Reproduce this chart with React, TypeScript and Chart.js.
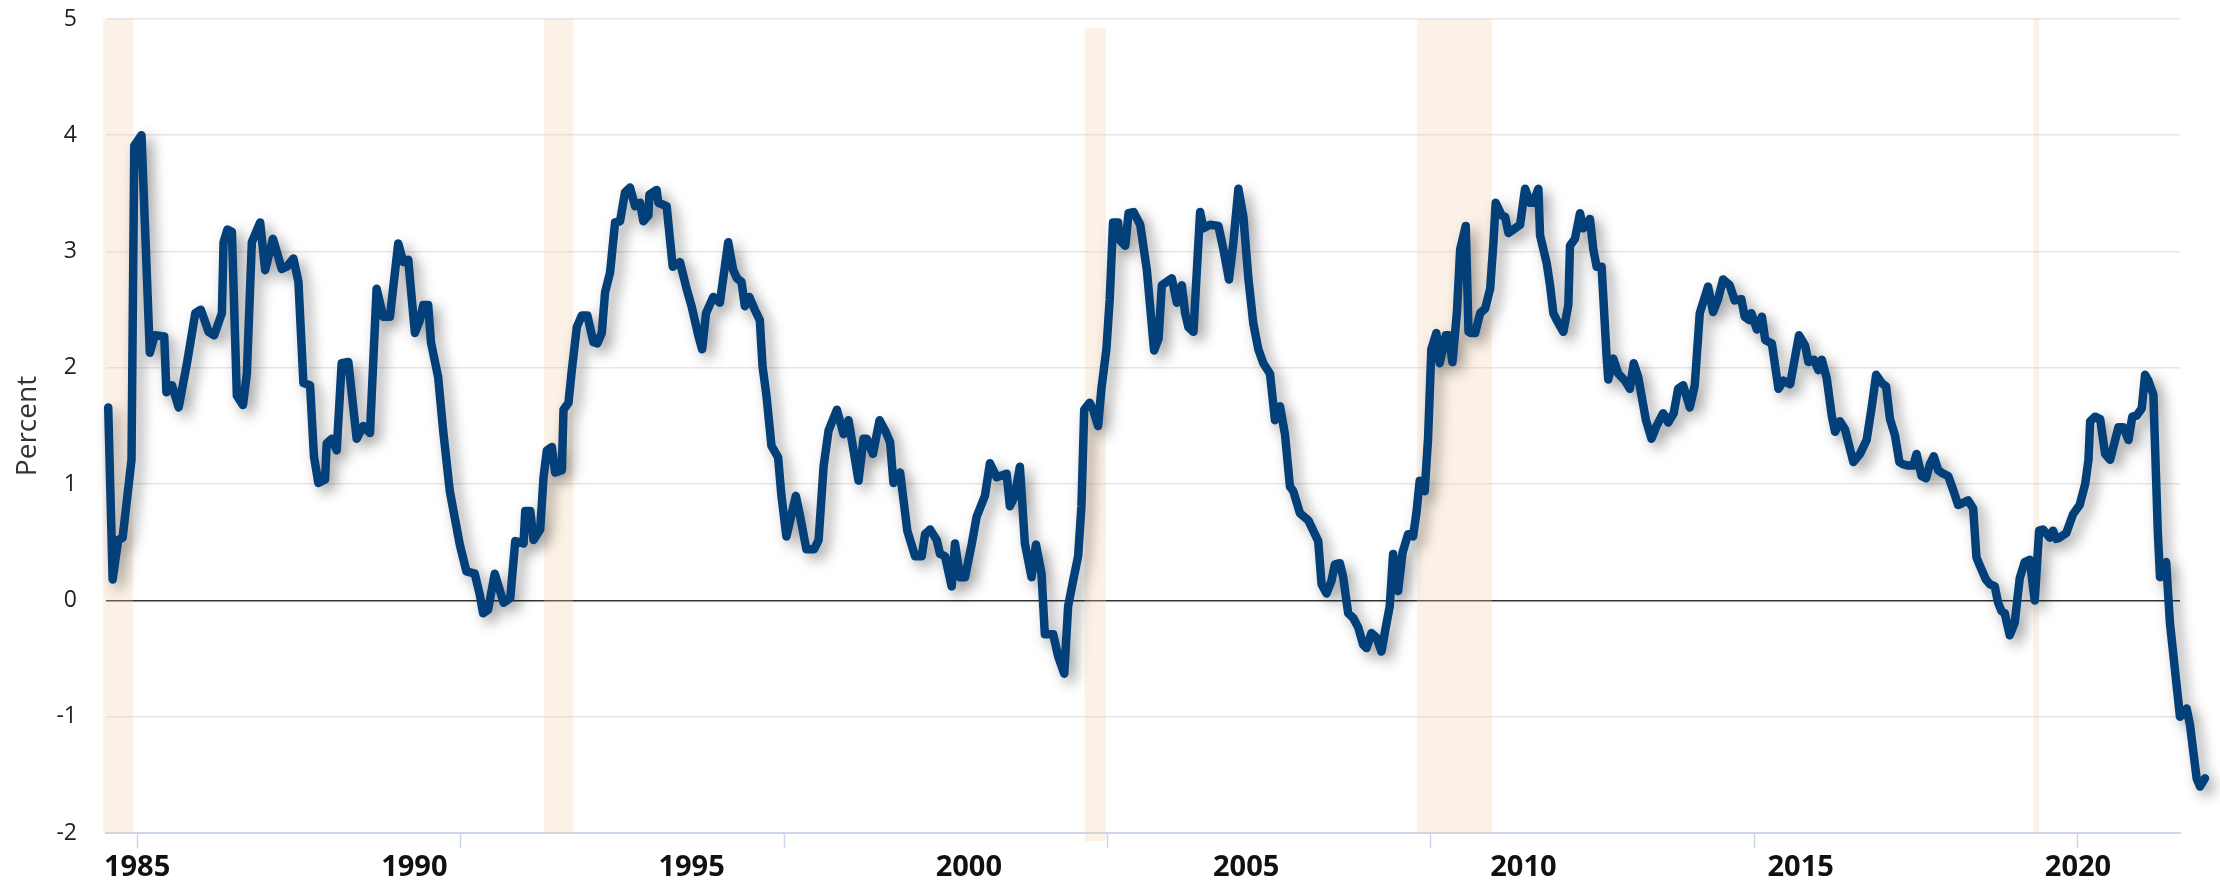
import React, { useEffect, useRef } from 'react';
import { Chart, registerables } from 'chart.js';

Chart.register(...registerables);

// Vertices of the series (decimal year, percent)
const lineDates = [
  1984.48, 1984.56, 1984.66, 1984.74, 1984.9, 1984.95, 1985.08, 1985.23, 1985.32, 1985.49,
  1985.53, 1985.63, 1985.75, 1985.9, 1986.05, 1986.15, 1986.29, 1986.39, 1986.53, 1986.56,
  1986.63, 1986.71, 1986.8, 1986.91, 1986.98, 1987.07, 1987.22, 1987.31, 1987.45, 1987.61,
  1987.7, 1987.82, 1987.91, 1988.0, 1988.12, 1988.19, 1988.27, 1988.39, 1988.42, 1988.51,
  1988.6, 1988.69, 1988.81, 1988.96, 1989.08, 1989.2, 1989.32, 1989.44, 1989.56, 1989.71,
  1989.8, 1989.89, 1990.01, 1990.1, 1990.16, 1990.25, 1990.3, 1990.43, 1990.52, 1990.64,
  1990.82, 1990.94, 1991.09, 1991.18, 1991.24, 1991.33, 1991.45, 1991.61, 1991.73, 1991.82,
  1991.97, 1992.0, 1992.09, 1992.15, 1992.27, 1992.33, 1992.39, 1992.48, 1992.54, 1992.66,
  1992.69, 1992.78, 1992.84, 1992.93, 1993.02, 1993.12, 1993.23, 1993.3, 1993.38, 1993.44,
  1993.53, 1993.62, 1993.71, 1993.8, 1993.89, 1993.98, 1994.07, 1994.13, 1994.22, 1994.24,
  1994.37, 1994.4, 1994.55, 1994.66, 1994.79, 1994.91, 1995.0, 1995.12, 1995.19, 1995.26,
  1995.39, 1995.51, 1995.66, 1995.75, 1995.82, 1995.9, 1995.96, 1996.04, 1996.14, 1996.23,
  1996.28, 1996.35, 1996.44, 1996.56, 1996.62, 1996.71, 1996.88, 1996.95, 1997.07, 1997.21,
  1997.29, 1997.38, 1997.47, 1997.62, 1997.74, 1997.83, 1998.01, 1998.1, 1998.16, 1998.27,
  1998.39, 1998.49, 1998.58, 1998.64, 1998.76, 1998.89, 1999.03, 1999.15, 1999.21, 1999.3,
  1999.42, 1999.48, 1999.57, 1999.69, 1999.75, 1999.84, 1999.93, 2000.05, 2000.14, 2000.29,
  2000.38, 2000.5, 2000.68, 2000.74, 2000.83, 2000.92, 2001.01, 2001.13, 2001.21, 2001.31,
  2001.37, 2001.52, 2001.61, 2001.72, 2001.79, 2001.88, 2001.97, 2002.03, 2002.08, 2002.18,
  2002.24, 2002.33, 2002.39, 2002.48, 2002.54, 2002.6, 2002.69, 2002.72, 2002.82, 2002.88,
  2002.97, 2003.09, 2003.21, 2003.34, 2003.42, 2003.48, 2003.57, 2003.66, 2003.75, 2003.84,
  2003.9, 2003.96, 2004.05, 2004.17, 2004.23, 2004.35, 2004.5, 2004.59, 2004.69, 2004.77,
  2004.86, 2004.95, 2005.04, 2005.13, 2005.22, 2005.31, 2005.43, 2005.52, 2005.61, 2005.7,
  2005.79, 2005.85, 2005.97, 2006.12, 2006.21, 2006.3, 2006.36, 2006.45, 2006.54, 2006.6,
  2006.69, 2006.75, 2006.84, 2006.93, 2007.02, 2007.11, 2007.17, 2007.26, 2007.35, 2007.44,
  2007.53, 2007.59, 2007.65, 2007.74, 2007.82, 2007.92, 2008.01, 2008.07, 2008.13, 2008.22,
  2008.28, 2008.34, 2008.43, 2008.49, 2008.6, 2008.65, 2008.72, 2008.8, 2008.86, 2008.96,
  2009.01, 2009.05, 2009.13, 2009.22, 2009.31, 2009.4, 2009.46, 2009.5, 2009.61, 2009.67,
  2009.73, 2009.82, 2009.94, 2010.03, 2010.12, 2010.18, 2010.27, 2010.3, 2010.42, 2010.48,
  2010.54, 2010.6, 2010.72, 2010.81, 2010.84, 2010.93, 2011.02, 2011.08, 2011.2, 2011.26,
  2011.32, 2011.41, 2011.5, 2011.53, 2011.62, 2011.71, 2011.83, 2011.92, 2011.99, 2012.07,
  2012.13, 2012.21, 2012.31, 2012.4, 2012.52, 2012.61, 2012.71, 2012.79, 2012.88, 2013.0,
  2013.09, 2013.18, 2013.33, 2013.42, 2013.51, 2013.6, 2013.72, 2013.81, 2013.93, 2013.99,
  2014.08, 2014.11, 2014.21, 2014.3, 2014.36, 2014.48, 2014.6, 2014.69, 2014.81, 2014.97,
  2015.08, 2015.14, 2015.24, 2015.32, 2015.38, 2015.47, 2015.56, 2015.62, 2015.71, 2015.8,
  2015.95, 2016.07, 2016.19, 2016.28, 2016.36, 2016.46, 2016.54, 2016.61, 2016.7, 2016.78,
  2016.85, 2016.94, 2017.03, 2017.09, 2017.18, 2017.26, 2017.33, 2017.4, 2017.48, 2017.57,
  2017.66, 2017.75, 2017.84, 2017.93, 2018.02, 2018.11, 2018.17, 2018.23, 2018.34, 2018.41,
  2018.5, 2018.56, 2018.62, 2018.68, 2018.77, 2018.86, 2018.95, 2019.04, 2019.13, 2019.22,
  2019.3, 2019.37, 2019.49, 2019.55, 2019.61, 2019.67, 2019.79, 2019.91, 2020.03, 2020.13,
  2020.19, 2020.22, 2020.31, 2020.4, 2020.49, 2020.58, 2020.73, 2020.82, 2020.91, 2020.98,
  2021.06, 2021.15, 2021.21, 2021.27, 2021.36, 2021.44, 2021.48, 2021.59, 2021.66, 2021.84,
  2021.96, 2022.02, 2022.14, 2022.2, 2022.29,
];

const lineValues = [
  1.66, 0.18, 0.52, 0.54, 1.21, 3.91, 4.0, 2.13, 2.28, 2.27,
  1.79, 1.85, 1.66, 2.04, 2.47, 2.5, 2.31, 2.28, 2.47, 3.08,
  3.19, 3.17, 1.76, 1.68, 1.95, 3.08, 3.25, 2.84, 3.11, 2.85,
  2.87, 2.94, 2.74, 1.87, 1.85, 1.24, 1.01, 1.04, 1.35, 1.39,
  1.29, 2.04, 2.05, 1.39, 1.5, 1.44, 2.68, 2.44, 2.44, 3.07,
  2.91, 2.93, 2.3, 2.41, 2.54, 2.54, 2.22, 1.92, 1.46, 0.94,
  0.48, 0.25, 0.23, 0.05, -0.11, -0.08, 0.23, -0.02, 0.02, 0.51,
  0.49, 0.77, 0.77, 0.52, 0.61, 1.06, 1.29, 1.32, 1.1, 1.12,
  1.64, 1.7, 1.98, 2.35, 2.45, 2.45, 2.22, 2.21, 2.3, 2.65,
  2.82, 3.25, 3.26, 3.51, 3.55, 3.39, 3.42, 3.26, 3.31, 3.49,
  3.53, 3.42, 3.39, 2.87, 2.91, 2.68, 2.53, 2.28, 2.16, 2.47,
  2.61, 2.56, 3.08, 2.84, 2.77, 2.74, 2.53, 2.61, 2.5, 2.41,
  2.01, 1.76, 1.33, 1.23, 0.9, 0.55, 0.9, 0.74, 0.44, 0.44,
  0.52, 1.15, 1.46, 1.64, 1.43, 1.55, 1.03, 1.39, 1.39, 1.26,
  1.55, 1.46, 1.36, 1.01, 1.1, 0.6, 0.38, 0.38, 0.57, 0.61,
  0.52, 0.4, 0.38, 0.12, 0.49, 0.2, 0.2, 0.48, 0.72, 0.9,
  1.18, 1.06, 1.09, 0.81, 0.9, 1.15, 0.49, 0.2, 0.48, 0.23,
  -0.29, -0.29, -0.48, -0.63, -0.05, 0.17, 0.38, 0.81, 1.64, 1.7,
  1.64, 1.5, 1.82, 2.16, 2.59, 3.25, 3.25, 3.1, 3.05, 3.33,
  3.34, 3.23, 2.84, 2.15, 2.25, 2.71, 2.74, 2.77, 2.56, 2.71,
  2.47, 2.35, 2.31, 3.34, 3.2, 3.23, 3.22, 3.02, 2.76, 3.08,
  3.54, 3.3, 2.77, 2.38, 2.16, 2.04, 1.95, 1.55, 1.67, 1.43,
  0.98, 0.94, 0.75, 0.69, 0.6, 0.51, 0.14, 0.06, 0.17, 0.31,
  0.32, 0.2, -0.11, -0.15, -0.23, -0.38, -0.41, -0.28, -0.32, -0.44,
  -0.2, -0.05, 0.4, 0.08, 0.41, 0.57, 0.55, 0.75, 1.03, 0.94,
  1.39, 2.16, 2.3, 2.04, 2.28, 2.28, 2.05, 2.47, 3.02, 3.22,
  2.31, 2.3, 2.3, 2.47, 2.51, 2.68, 3.08, 3.42, 3.31, 3.3,
  3.16, 3.19, 3.23, 3.54, 3.42, 3.42, 3.54, 3.14, 2.9, 2.71,
  2.47, 2.41, 2.31, 2.54, 3.05, 3.11, 3.33, 3.2, 3.28, 3.02,
  2.87, 2.87, 2.1, 1.9, 2.08, 1.95, 1.89, 1.82, 2.04, 1.92,
  1.76, 1.55, 1.39, 1.5, 1.61, 1.53, 1.61, 1.82, 1.85, 1.66,
  1.85, 2.47, 2.7, 2.48, 2.59, 2.76, 2.71, 2.58, 2.59, 2.44,
  2.41, 2.47, 2.33, 2.44, 2.24, 2.21, 1.82, 1.89, 1.86, 2.28,
  2.19, 2.05, 2.07, 1.98, 2.07, 1.91, 1.59, 1.45, 1.54, 1.47,
  1.19, 1.26, 1.38, 1.66, 1.94, 1.87, 1.84, 1.56, 1.42, 1.19,
  1.17, 1.16, 1.16, 1.26, 1.07, 1.05, 1.17, 1.24, 1.12, 1.09,
  1.07, 0.95, 0.82, 0.84, 0.86, 0.79, 0.37, 0.3, 0.18, 0.14,
  0.12, -0.02, -0.09, -0.11, -0.3, -0.19, 0.19, 0.33, 0.35, 0.0,
  0.6, 0.61, 0.54, 0.6, 0.53, 0.54, 0.58, 0.74, 0.82, 1.0,
  1.21, 1.54, 1.58, 1.56, 1.26, 1.21, 1.49, 1.49, 1.38, 1.58,
  1.59, 1.65, 1.94, 1.89, 1.77, 0.59, 0.2, 0.33, -0.2, -1.0,
  -0.93, -1.07, -1.53, -1.6, -1.53,
];

// Axis
const xMin = 1984.44;
const xMax = 2021.84;
const yMin = -2;
const yMax = 5;
const xLabelYears = [1985, 1990, 1995, 2000, 2005, 2010, 2015, 2020];
const xLabelTexts = ['1985', '1990', '1995', '2000', '2005', '2010', '2015', '2020'];
const xTickMarkYears = [1985, 1990.8333, 1996.6667, 2002.5, 2008.3333, 2014.1667, 2020];
const yAxisTitle = 'Percent';

// Shaded periods
const bandStarts = [1984.39, 1992.34, 2002.09, 2008.08, 2019.2];
const bandEnds = [1984.93, 1992.86, 2002.47, 2009.43, 2019.3];
const bandTops = [5, 5, 4.92, 5, 5];
const bandBottoms = [-2, -2, -2.07, -2, -2];

const FONT = "'Open Sans', 'DejaVu Sans', sans-serif";

const bandsPlugin = {
  id: 'bands',
  beforeDatasetsDraw(chart: any) {
    const { ctx, scales } = chart;
    const x = scales.x;
    const y = scales.y;
    ctx.save();
    ctx.fillStyle = 'rgba(245, 205, 165, 0.28)';
    for (let i = 0; i < bandStarts.length; i++) {
      const x0 = x.getPixelForValue(bandStarts[i]);
      const x1 = x.getPixelForValue(bandEnds[i]);
      const y0 = y.getPixelForValue(bandTops[i]);
      const y1 = y.getPixelForValue(bandBottoms[i]);
      ctx.fillRect(x0, y0, x1 - x0, y1 - y0);
    }
    ctx.restore();
  },
};

const shadowPlugin = {
  id: 'lineShadow',
  beforeDatasetDraw(chart: any) {
    const ctx = chart.ctx;
    ctx.save();
    ctx.shadowColor = 'rgba(0, 0, 0, 0.38)';
    ctx.shadowBlur = 14;
    ctx.shadowOffsetX = 6;
    ctx.shadowOffsetY = 6;
  },
  afterDatasetDraw(chart: any) {
    chart.ctx.restore();
  },
};

const near = (a: number, b: number) => Math.abs(a - b) < 0.01;

export default function App() {
  const canvasRef = useRef<HTMLCanvasElement | null>(null);

  useEffect(() => {
    if (!canvasRef.current) return;
    const points = lineDates.map((d, i) => ({ x: d, y: lineValues[i] }));
    const chart = new Chart(canvasRef.current, {
      type: 'line',
      data: {
        datasets: [
          {
            data: points,
            borderColor: '#033f79',
            borderWidth: 8.5,
            pointRadius: 0,
            tension: 0,
            borderJoinStyle: 'round',
            borderCapStyle: 'round',
            clip: false,
          } as any,
        ],
      },
      options: {
        animation: false,
        responsive: true,
        maintainAspectRatio: false,
        layout: { padding: { top: 19, right: 40, bottom: 0, left: 0 } },
        plugins: {
          legend: { display: false },
          tooltip: { enabled: false },
        },
        scales: {
          x: {
            type: 'linear',
            bounds: 'data',
            afterDataLimits: (scale: any) => {
              scale.min = xMin;
              scale.max = xMax;
            },
            afterBuildTicks: (scale: any) => {
              const vals = Array.from(new Set([...xLabelYears, ...xTickMarkYears])).sort((a, b) => a - b);
              scale.ticks = vals.map((v) => ({ value: v }));
            },
            afterFit: (scale: any) => {
              scale.height = 48;
            },
            border: { display: true, color: '#ccd6eb', width: 2 },
            grid: {
              drawOnChartArea: false,
              drawTicks: true,
              tickLength: 15,
              tickWidth: 1.5,
              tickColor: (ctx: any) =>
                xTickMarkYears.some((m) => near(m, ctx.tick.value)) ? '#ccd6eb' : 'rgba(0,0,0,0)',
            },
            ticks: {
              autoSkip: false,
              maxRotation: 0,
              minRotation: 0,
              padding: 2,
              color: '#111111',
              font: { family: FONT, size: 29, weight: 'bold' },
              callback: (value: any) => {
                const i = xLabelYears.findIndex((y) => near(y, Number(value)));
                return i >= 0 ? xLabelTexts[i] : '';
              },
            },
          },
          y: {
            type: 'linear',
            min: yMin,
            max: yMax,
            afterFit: (scale: any) => {
              scale.width = 106;
            },
            border: { display: false },
            grid: {
              drawTicks: true,
              tickLength: 29,
              tickColor: 'rgba(0,0,0,0)',
              color: (ctx: any) => (ctx.tick.value === 0 ? '#333333' : '#e6e6e6'),
              lineWidth: (ctx: any) => (ctx.tick.value === 0 ? 1.4 : 1.6),
            },
            ticks: {
              stepSize: 1,
              padding: 0,
              color: '#222222',
              font: { family: FONT, size: 23 },
            },
            title: {
              display: true,
              text: yAxisTitle,
              color: '#333333',
              font: { family: FONT, size: 28, weight: 'normal' },
              padding: { top: 11, bottom: 0 },
            },
          },
        },
      } as any,
      plugins: [bandsPlugin, shadowPlugin],
    });
    return () => chart.destroy();
  }, []);

  return (
    <div style={{ position: 'fixed', left: 0, top: 0, width: 2220, height: 881, background: '#ffffff' }}>
      <canvas ref={canvasRef} />
    </div>
  );
}
